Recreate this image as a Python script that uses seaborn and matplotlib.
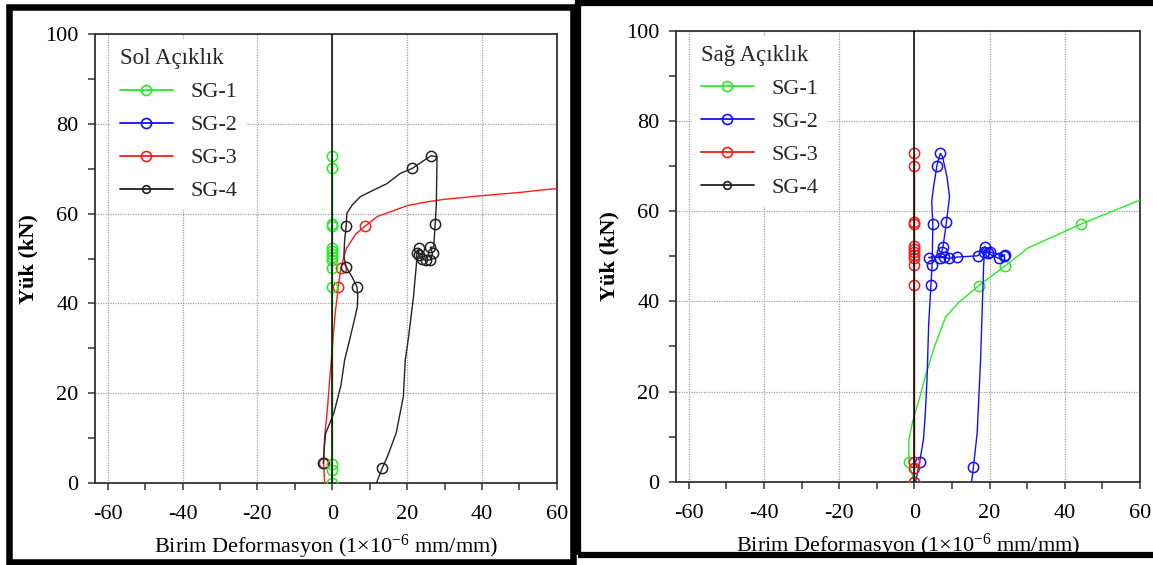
import numpy as np
import pandas as pd
import matplotlib
matplotlib.use("Agg")
import matplotlib.pyplot as plt
from matplotlib.lines import Line2D
from matplotlib.patches import Rectangle
from matplotlib.ticker import MultipleLocator
import seaborn as sns

# ---- Sol Açıklık (left span) ----
sol_sg1_x = [0, 0, 0, 0, 0, 0, 0, 0, 0, 0, 0, 0, 0, 0]
sol_sg1_y = [0, 3.0, 4.3, 43.6, 48.0, 49.6, 50.3, 51.0, 51.6, 52.3, 57.2, 57.6, 70.1, 72.8]
sol_sg1_mk = list(range(14))

sol_sg3_x = [-2.05, -2.3, -2.05, -1.4, -0.7, 0.0, 0.8, 1.6, 2.3, 3.75, 6.2, 8.7, 12.1, 16.1,
             20.0, 25.0, 29.9, 39.8, 49.6, 58.5, 60.5]
sol_sg3_y = [0, 4.4, 10.3, 15.5, 22.9, 30.0, 38.0, 43.6, 48.0, 52.2, 55.4, 57.2, 59.4, 60.6,
             61.8, 62.6, 63.2, 64.0, 64.7, 65.5, 65.6]
sol_sg3_mk = [1, 7, 8, 11]

sol_sg4_x = [-2.4, -2.2, -1.8, 0.4, 2.3, 3.3, 4.4, 5.7, 6.7, 6.8, 6.6, 5.3, 3.7, 3.1, 3.3, 3.7,
             3.9, 5.3, 7.5, 11.1, 14.6, 18.2, 21.4, 24.0, 26.4, 28.0, 27.8, 27.5, 27.1, 26.2,
             26.8, 26.2, 25.1, 24.0, 23.1, 23.1, 22.6, 22.5, 21.7, 20.4, 19.5, 19.0, 17.1,
             14.6, 13.4, 11.8]
sol_sg4_y = [4.4, 7.2, 11.0, 15.5, 21.7, 27.4, 31.1, 35.6, 39.3, 41.5, 43.7, 45.9, 48.1, 50.4,
             54.1, 57.2, 60.1, 61.9, 63.8, 65.3, 66.7, 69.0, 70.1, 71.6, 72.9, 72.7, 62.0,
             57.6, 52.6, 52.5, 51.2, 49.7, 49.7, 49.8, 50.8, 52.3, 51.2, 48.9, 41.5, 32.6,
             27.4, 19.3, 11.2, 5.6, 3.4, 0]
sol_sg4_mk = [0, 10, 12, 15, 22, 24, 27, 29, 30, 31, 32, 33, 34, 35, 36, 44]

# ---- Sağ Açıklık (right span) ----
sag_sg1_x = [0, -1.46, -1.46, -0.5, 1.5, 3.0, 5.4, 8.3, 11.7, 17.2, 24.0, 28.9, 29.9, 35.2,
             44.3, 51.9, 60.2]
sag_sg1_y = [0, 4.3, 9.3, 13.3, 18.9, 23.7, 30.1, 36.5, 39.7, 43.5, 47.8, 50.9, 51.7, 53.7,
             57.1, 59.7, 62.5]
sag_sg1_mk = [0, 1, 9, 10, 14]

sag_sg2_x = [0.3, 1.4, 2.4, 2.9, 3.35, 3.8, 4.4, 4.7, 4.8, 4.9, 4.6, 5.1, 6.0, 6.9, 7.5, 8.66,
             9.35, 8.5, 7.75, 7.6, 7.3, 6.9, 3.8, 7.8, 9.1, 11.3, 16.9, 18.8, 19.7, 22.4, 24.0,
             23.9, 20.2, 18.6, 18.5, 18.4, 17.6, 16.7, 15.7, 15.2]
sag_sg2_y = [0, 4.45, 9.3, 15.2, 22.6, 35.0, 43.6, 48.0, 52.0, 57.1, 62.0, 65.4, 70.1, 72.8,
             72.0, 67.6, 63.2, 57.5, 52.9, 52.1, 51.0, 49.7, 49.7, 49.9, 49.5, 49.8, 50.1, 52.1,
             50.6, 49.5, 50.3, 50.0, 50.9, 51.0, 49.0, 47.7, 27.0, 10.9, 3.3, 0]
sag_sg2_mk = [1, 6, 7, 9, 12, 13, 17, 19, 20, 21, 22, 23, 24, 25, 26, 27, 28, 29, 30, 31, 32,
              33, 38]

sag_sg3_x = [0, 0, 0, 0, 0, 0, 0, 0, 0, 0, 0, 0, 0, 0]
sag_sg3_y = [0, 3.0, 4.3, 43.6, 48.0, 49.6, 50.3, 51.0, 51.6, 52.3, 57.2, 57.6, 70.1, 72.8]
sag_sg3_mk = list(range(14))

series_names = ["SG-1", "SG-2", "SG-3", "SG-4"]
series_colors = ["#22ee22", "#1010ff", "#ff1a1a", "#222222"]

sns.set_theme(style="ticks")
plt.rcParams["font.family"] = ["Liberation Serif", "DejaVu Serif"]
plt.rcParams["mathtext.fontset"] = "custom"
plt.rcParams["mathtext.rm"] = "Liberation Serif"
plt.rcParams["mathtext.it"] = "Liberation Serif:italic"
plt.rcParams["axes.unicode_minus"] = False

W, H = 1153, 565
fig = plt.figure(figsize=(W / 100, H / 100), dpi=100, facecolor="white")


def px_axes(l, r, t, b):
    return [l / W, 1 - b / H, (r - l) / W, (b - t) / H]


ax1 = fig.add_axes(px_axes(95.4, 556.8, 34.2, 483.0))
ax2 = fig.add_axes(px_axes(676.4, 1140.0, 30.6, 481.8))


def draw(ax, x, y, mk, color):
    df = pd.DataFrame({"x": x, "y": y})
    sns.lineplot(data=df, x="x", y="y", sort=False, estimator=None, ax=ax, color=color,
                 lw=1.0, marker="o", markevery=mk, ms=7.4, mfc="none", mec=color,
                 mew=1.1, zorder=3, legend=False)


draw(ax1, sol_sg3_x, sol_sg3_y, sol_sg3_mk, series_colors[2])
draw(ax1, sol_sg4_x, sol_sg4_y, sol_sg4_mk, series_colors[3])
draw(ax1, sol_sg1_x, sol_sg1_y, sol_sg1_mk, series_colors[0])

draw(ax2, sag_sg1_x, sag_sg1_y, sag_sg1_mk, series_colors[0])
draw(ax2, sag_sg2_x, sag_sg2_y, sag_sg2_mk, series_colors[1])
draw(ax2, sag_sg3_x, sag_sg3_y, sag_sg3_mk, series_colors[2])

for ax, title in [(ax1, "Sol Açıklık"), (ax2, "Sağ Açıklık")]:
    ax.axvline(0, color="black", lw=1.1, zorder=4)
    ax.set_xlim(-63.3, 60)
    ax.set_ylim(0, 100)
    ax.xaxis.set_major_locator(MultipleLocator(20))
    ax.xaxis.set_minor_locator(MultipleLocator(10))
    ax.yaxis.set_major_locator(MultipleLocator(20))
    ax.yaxis.set_minor_locator(MultipleLocator(10))
    ax.grid(True, which="major", ls=(0, (1, 1)), color="#a0a0a0", lw=0.9, zorder=0)
    ax.tick_params(axis="both", which="both", direction="out", length=5, width=1.1,
                   color="#333333", labelsize=16, labelcolor="black")
    ax.tick_params(axis="x", which="major", pad=11)
    ax.tick_params(axis="y", which="major", pad=7)
    for s in ax.spines.values():
        s.set_color("#333333")
        s.set_linewidth(1.3)
    ax.set_xlabel("Birim Deformasyon (1×10$^{-6}$ mm/mm)", fontsize=16, color="black",
                  labelpad=6)
    ax.set_ylabel("Yük (kN)", fontsize=16, fontweight="bold", color="black", labelpad=5)

    handles = []
    for name, c in zip(series_names, series_colors):
        ms = 5.5 if name == "SG-4" else 7.2
        handles.append(Line2D([], [], color=c, lw=1.3, marker="o", ms=ms, mfc="none",
                              mec=c, mew=1.2))
    leg = ax.legend(handles, series_names, title=title, loc="upper left",
                    bbox_to_anchor=(0.033, 0.988), borderaxespad=0, frameon=True,
                    fancybox=False, edgecolor="none", facecolor="white", framealpha=1,
                    fontsize=16, title_fontsize=16.5, handlelength=2.4,
                    handletextpad=0.8, labelspacing=0.56, alignment="left")
    leg.set_zorder(5)

# black frames around each panel
fig.add_artist(Rectangle((8.5 / W, 1 - 561.5 / H), 564 / W, 554.5 / H,
                         transform=fig.transFigure, fill=False, ec="black", lw=4.7))
fig.add_artist(Rectangle((578 / W, 1 - 555 / H), 600 / W, 552.5 / H,
                         transform=fig.transFigure, fill=False, ec="black", lw=4.5))

fig.savefig("out.png", dpi=100, facecolor="white")
